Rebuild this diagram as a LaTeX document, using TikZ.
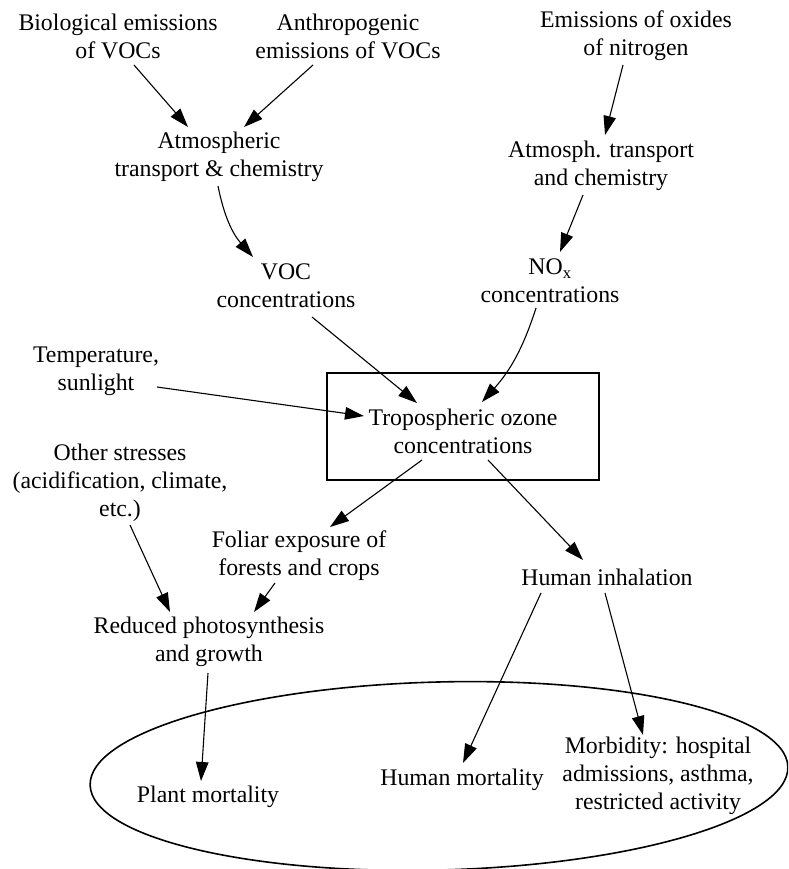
\documentclass[tikz,border=0pt]{standalone}
\usepackage{fontspec}
\setmainfont{Liberation Serif}
\usetikzlibrary{arrows.meta,calc}

\begin{document}
\begin{tikzpicture}[
        x=1pt, y=-1pt,
        lbl/.style={align=center, inner sep=0pt, font=\fontsize{23.8}{28}\selectfont},
        box/.style={rectangle, draw, line width=1.6pt, minimum width=272pt, minimum height=107pt},
        arrow/.style={-{Triangle[length=19pt,width=12.5pt]}, line width=1.1pt}
    ]
        \useasboundingbox (0,0) rectangle (788,869);
        \clip (0,0) rectangle (788,869);

        % sources
        \node[lbl] (bio) at (118,36) {Biological emissions\\of VOCs};
        \node[lbl] (anthro) at (348,36) {Anthropogenic\\emissions of VOCs};
        \node[lbl] (noxem) at (636,36) {Emissions of oxides\\of nitrogen};
        \node[lbl] (atm) at (219,157) {Atmospheric\\transport \& chemistry};
        \node[lbl] (atmn) at (601,166) {Atmosph. transport\\and chemistry};
        \node[lbl] (voc) at (286,286) {VOC\\concentrations};
        \node[lbl] (nox) at (550,281) {NO\textsubscript{x}\\concentrations};
        \node[lbl] (temp) at (96,371) {Temperature,\\sunlight};
        \node[box] (tropobox) at (463,426.5) {};
        \node[lbl] (tropo) at (463,431) {Tropospheric ozone\\concentrations};

        % effects
        \node[lbl] (other) at (120,483) {Other stresses\\(acidification, climate,\\etc.)};
        \node[lbl] (foliar) at (299,556) {Foliar exposure of\\forests and crops};
        \node[lbl] (inhal) at (607,577) {Human inhalation};
        \node[lbl] (reduced) at (209,642) {Reduced photosynthesis\\and growth};
        \node[lbl] (plant) at (208,797) {Plant mortality};
        \node[lbl] (hmort) at (462,780) {Human mortality};
        \node[lbl] (morb) at (658,776) {Morbidity: hospital\\admissions, asthma,\\restricted activity};

        \draw[line width=1.6pt, rotate around={1.5:(439,776)}] (439,776) ellipse [x radius=349, y radius=94];

        \draw[arrow] ($(bio)+(16,29)$) -- ($(atm)+(-31,-30)$);
        \draw[arrow] ($(anthro)+(-35,29)$) -- ($(atm)+(25,-30)$);
        \draw[arrow] ($(atm)+(-1,29)$) to[bend right=15] ($(voc)+(-33,-29)$);
        \draw[arrow] ($(noxem)+(-13,29)$) -- ($(atmn)+(4,-31)$);
        \draw[arrow] ($(atmn)+(-18,29)$) -- ($(nox)+(10,-29)$);
        \draw[arrow] ($(voc)+(26,31)$) -- ($(tropo)+(-46,-28)$);
        \draw[arrow] ($(nox)+(-14,27)$) to[bend left=12] ($(tropo)+(19,-29)$);
        \draw[arrow] ($(temp)+(61,16)$) -- ($(tropo)+(-99,-15)$);
        \draw[arrow] ($(tropo)+(-41,29)$) -- ($(foliar)+(31,-29)$);
        \draw[arrow] ($(tropo)+(25,29)$) -- ($(inhal)+(-24,-17)$);
        \draw[arrow] ($(other)+(10,42)$) -- ($(reduced)+(-39,-30)$);
        \draw[arrow] ($(foliar)+(-24,27)$) -- ($(reduced)+(45,-30)$);
        \draw[arrow] ($(reduced)+(-1,31)$) -- ($(plant)+(-7,-16)$);
        \draw[arrow] ($(inhal)+(-66,16)$) -- ($(hmort)+(1,-17)$);
        \draw[arrow] ($(inhal)+(-2,16)$) -- ($(morb)+(-15,-41)$);
    \end{tikzpicture}
\end{document}
